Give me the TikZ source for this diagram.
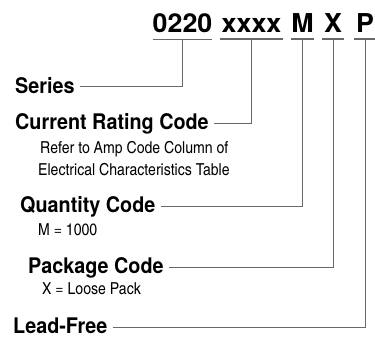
\documentclass[tikz,border=0pt]{standalone}
\usepackage{fontspec}
\newfontfamily\codefont{TeX Gyre Heros}[FakeStretch=1.03]
\newfontfamily\titlefont{TeX Gyre Heros}[FakeStretch=0.92]
\newfontfamily\notefont{texgyreheroscn}[Extension=.otf, UprightFont=*-regular, BoldFont=*-bold, FakeStretch=1.04]
\definecolor{linegray}{RGB}{105,105,105}
\begin{document}
\begin{tikzpicture}[x=1pt, y=-1pt,
        code/.style={anchor=base, inner xsep=0pt, inner ysep=6pt, font=\codefont\bfseries\fontsize{26}{26}\selectfont},
        title/.style={anchor=base west, inner xsep=5pt, inner ysep=0pt, text height=12pt, text depth=0pt, font=\titlefont\bfseries\fontsize{21.5}{22}\selectfont},
        note/.style={anchor=base west, inner sep=0pt, font=\notefont\fontsize{16.5}{22}\selectfont},
        uline/.style={draw=linegray, line width=1.5pt},
        lead/.style={draw=linegray, line width=1pt}
    ]
        \useasboundingbox (0,0) rectangle (375,337);

        % part number
        \node[code, minimum width=59] (c0220) at (182.5, 33) {0220};
        \node[code, minimum width=63] (cxxxx) at (251.5, 33) {xxxx};
        \node[code, minimum width=22] (cM) at (302.5, 33) {M};
        \node[code, minimum width=22] (cX) at (333, 33) {X};
        \node[code, minimum width=21] (cP) at (365, 33) {P};

        \foreach \n in {c0220, cxxxx, cM, cX, cP}
            \draw[uline] (\n.south west) -- (\n.south east);

        % field names
        \node[title] (series) at (10, 93) {Series};
        \node[title] (current) at (10, 129) {Current Rating Code};
        \node[title] (quantity) at (15, 212) {Quantity Code};
        \node[title] (package) at (23, 273) {Package Code};
        \node[title] (leadfree) at (8, 333) {Lead-Free};

        % notes
        \node[note] (amp1) at (40, 153) {Refer to Amp Code Column of};
        \node[note] (amp2) at (38, 175) {Electrical Characteristics Table};
        \node[note] (qty) at (38, 235) {M = 1000};
        \node[note] (pack) at (42, 294) {X = Loose Pack};

        \draw[lead] (series.east) -| (c0220.south);
        \draw[lead] (current.east) -| (cxxxx.south);
        \draw[lead] (quantity.east) -| (cM.south);
        \draw[lead] (package.east) -| (cX.south);
        \draw[lead] (leadfree.east) -| (cP.south);
    \end{tikzpicture}
\end{document}
